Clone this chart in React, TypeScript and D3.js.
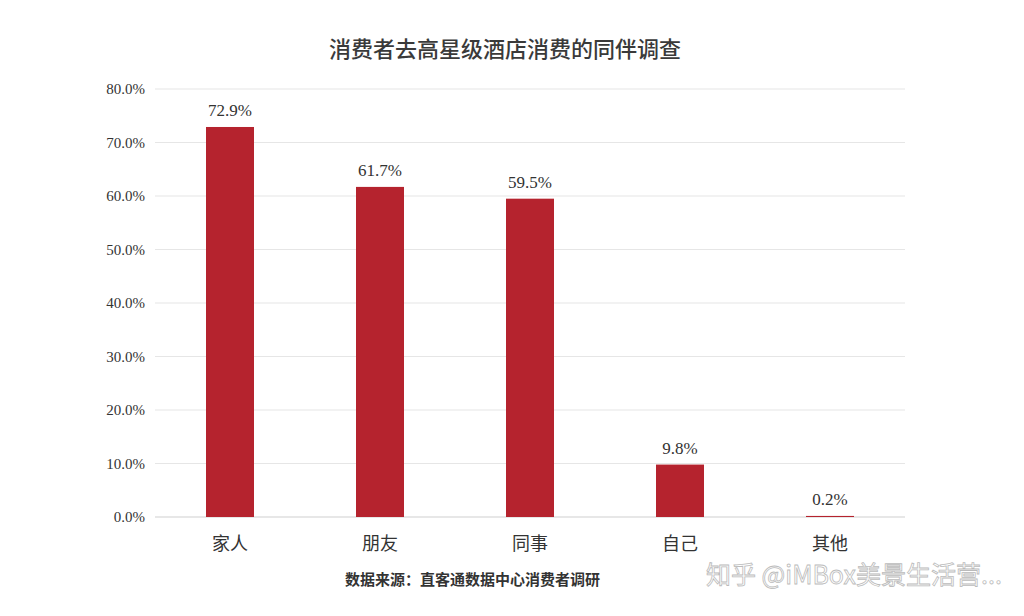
import { useEffect, useRef } from 'react';
import * as d3 from 'd3';

const categories = ['家人', '朋友', '同事', '自己', '其他'];
const values = [72.9, 61.7, 59.5, 9.8, 0.2];
const yTicks = [0, 10, 20, 30, 40, 50, 60, 70, 80];

const title = '消费者去高星级酒店消费的同伴调查';
const source = '数据来源：直客通数据中心消费者调研';
const watermark = '知乎 @iMBox美景生活营...';

const App = () => {
  const ref = useRef<SVGSVGElement | null>(null);

  useEffect(() => {
    if (!ref.current) return;
    const svg = d3.select(ref.current);
    svg.selectAll('*').remove();
    const width = 1024;
    const height = 616;
    const margin = { top: 89, right: 119, bottom: 99, left: 155 };

    svg.attr('width', width).attr('height', height);

    const x = d3
      .scaleBand()
      .domain(categories)
      .range([margin.left, width - margin.right])
      .paddingInner(0.68)
      .paddingOuter(0.34);

    const y = d3
      .scaleLinear()
      .domain([0, 80])
      .range([height - margin.bottom, margin.top]);

    const serif = '"Liberation Serif", "DejaVu Serif", serif';
    const cjk = '"Noto Sans CJK SC", sans-serif';

    // grid
    svg
      .append('g')
      .selectAll('line')
      .data(yTicks)
      .join('line')
      .attr('x1', margin.left)
      .attr('x2', width - margin.right)
      .attr('y1', (d) => y(d))
      .attr('y2', (d) => y(d))
      .attr('stroke', (d) => (d === 0 ? '#d0d0d0' : '#e6e6e6'))
      .attr('stroke-width', 1.2);

    // y tick labels
    svg
      .append('g')
      .selectAll('text')
      .data(yTicks)
      .join('text')
      .attr('x', 145)
      .attr('y', (d) => y(d))
      .attr('dy', '0.35em')
      .attr('text-anchor', 'end')
      .attr('font-family', serif)
      .attr('font-size', 15)
      .attr('fill', '#333')
      .text((d) => `${d.toFixed(1)}%`);

    // bars
    svg
      .append('g')
      .selectAll('rect')
      .data(values)
      .join('rect')
      .attr('x', (_, i) => x(categories[i])!)
      .attr('width', x.bandwidth())
      .attr('y', (d) => y(d))
      .attr('height', (d) => y(0) - y(d))
      .attr('fill', '#b5232e');

    // value labels
    svg
      .append('g')
      .selectAll('text')
      .data(values)
      .join('text')
      .attr('x', (_, i) => x(categories[i])! + x.bandwidth() / 2)
      .attr('y', (d) => y(d) - 11)
      .attr('text-anchor', 'middle')
      .attr('font-family', serif)
      .attr('font-size', 17)
      .attr('fill', '#333')
      .text((d) => `${d.toFixed(1)}%`);

    // category labels
    svg
      .append('g')
      .selectAll('text')
      .data(categories)
      .join('text')
      .attr('x', (d) => x(d)! + x.bandwidth() / 2)
      .attr('y', 550)
      .attr('text-anchor', 'middle')
      .attr('font-family', cjk)
      .attr('font-size', 18)
      .attr('fill', '#333')
      .text((d) => d);

    // title
    svg
      .append('text')
      .attr('x', 505)
      .attr('y', 57)
      .attr('text-anchor', 'middle')
      .attr('font-family', cjk)
      .attr('font-size', 22)
      .attr('font-weight', 500)
      .attr('fill', '#3a3a3a')
      .text(title);

    // source
    svg
      .append('text')
      .attr('x', 345)
      .attr('y', 585)
      .attr('font-family', cjk)
      .attr('font-size', 15)
      .attr('font-weight', 700)
      .attr('fill', '#333')
      .text(source);

    // watermark
    svg
      .append('text')
      .attr('x', 706)
      .attr('y', 584)
      .attr('font-family', cjk)
      .attr('font-size', 25)
      .attr('fill', '#ffffff')
      .attr('fill-opacity', 0.85)
      .attr('stroke', '#bbbbbb')
      .attr('stroke-width', 0.8)
      .text(watermark);
  }, []);

  return <svg ref={ref} style={{ position: 'absolute', left: 0, top: 0 }} />;
};

export default App;
